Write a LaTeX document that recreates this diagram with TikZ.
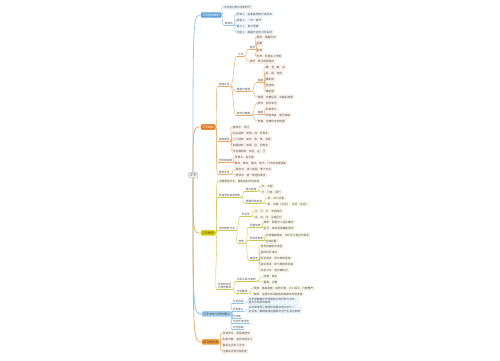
\documentclass[tikz,border=0pt]{standalone}
\usepackage{fontspec}
\newfontfamily\cjk{Noto Sans CJK SC}
\usetikzlibrary{calc}
\definecolor{bma}{HTML}{5AA0D6}\definecolor{bmd}{HTML}{3F86BF}\definecolor{bln}{HTML}{9CC8E6}\definecolor{bdr}{HTML}{BBDCF1}\definecolor{bfi}{HTML}{F4FAFE}
\definecolor{oma}{HTML}{E8771C}\definecolor{omd}{HTML}{D0650E}\definecolor{oln}{HTML}{F0A868}\definecolor{odr}{HTML}{F6CFA8}\definecolor{ofi}{HTML}{FFF9F3}
\definecolor{yma}{HTML}{E6D600}\definecolor{ymd}{HTML}{C9BB00}\definecolor{yln}{HTML}{CFC64E}\definecolor{ydr}{HTML}{E6E3A0}\definecolor{yfi}{HTML}{FDFDF2}
\definecolor{cma}{HTML}{A8D4F0}\definecolor{cmd}{HTML}{7DB8E0}\definecolor{cln}{HTML}{8EC2E6}\definecolor{cdr}{HTML}{BBDCF1}\definecolor{cfi}{HTML}{EEF7FD}
\definecolor{pma}{HTML}{F39A3A}\definecolor{pmd}{HTML}{DE8426}\definecolor{pln}{HTML}{F2AC6A}\definecolor{pdr}{HTML}{F6CFA8}\definecolor{pfi}{HTML}{FFF9F3}
\tikzset{
 base/.style={font=\cjk\fontsize{2.7}{3.2}\selectfont, inner sep=0.6pt, anchor=west, text=black!72},
 leaf/.style={base, draw=#1dr, fill=#1fi, line width=0.3pt, rounded corners=0.6pt, inner sep=0.7pt},
 midn/.style={base},
 mainn/.style={font=\cjk\fontsize{3}{3.4}\selectfont, inner sep=1pt, anchor=west, fill=#1ma, draw=#1md, rounded corners=0.8pt, line width=0.3pt},
 lk/.style={draw=#1ln, line width=0.45pt},
 trunk/.style={draw=#1ln, line width=0.8pt},
}
\newcommand\lfnode[5]{\node[leaf=#1] (#2) at (#3,#4) {#5};}
\newcommand\mdnode[5]{\node[midn] (#2) at (#3,#4) {#5}; \draw[lk=#1] (#2.south west) -- (#2.south east);}
\newcommand\lnk[3]{\draw[lk=#1] (#2) .. controls +(3.5,0) and +(-3.5,0) .. (#3);}
\begin{document}
\begin{tikzpicture}[x=1pt,y=-1pt]
\useasboundingbox (0,0) rectangle (500,360);
\fill[white] (0,0) rectangle (500,360);
\node[font=\cjk\fontsize{3.6}{4}\selectfont, draw=gray!50, fill=white, inner sep=1pt, rounded corners=0.8pt, text=black!75] (cen) at (193,175) {汉字};
% ---------- blue top
\node[mainn=b,text=white] (b) at (201,15) {字的基本概念};
\lfnode{b}{b1}{223}{7}{汉字是记录汉语的符号}
\mdnode{b}{b2}{224}{23}{其特点}
\lfnode{b}{b21}{236}{14}{形体上：由笔画构成方块形体}
\lfnode{b}{b22}{236}{20}{读音上：一字一音节}
\lfnode{b}{b23}{236}{26}{意义上：表示语素}
\lfnode{b}{b24}{236}{32}{功能上：超越方言的书写系统}
\lnk{b}{b.east}{b1.west}\lnk{b}{b.east}{b2.south west}
\foreach \i in {1,...,4}{\lnk{b}{b2.south east}{b2\i.west}}
% ---------- orange
\node[mainn=o,text=white] (o) at (201,127) {汉字结构};
\mdnode{o}{o1}{218}{84}{构造方法}
\mdnode{o}{o11}{237}{54}{六书}
\mdnode{o}{o111}{249}{47}{造字}
\lfnode{o}{o1111}{256}{37}{象形：描摹形状}
\lfnode{o}{o1112}{256}{43.5}{指事}
\lfnode{o}{o1113}{256}{50}{会意}
\lfnode{o}{o1114}{256}{56}{形声：形旁加上声旁}
\lfnode{o}{o112}{249}{61.5}{用字：转注和假借法}
\mdnode{o}{o12}{236}{89}{笔画与笔顺}
\mdnode{o}{o121}{257}{80}{笔画}
\lfnode{o}{o1211}{265}{67}{横、竖、撇、点}
\lfnode{o}{o1212}{265}{73}{折、提、弯钩}
\lfnode{o}{o1213}{265}{79}{横折钩}
\lfnode{o}{o1214}{265}{85}{竖弯钩}
\lfnode{o}{o1215}{265}{91}{横折提}
\lfnode{o}{o122}{257}{97}{笔顺：先横后竖、先撇后捺等}
\mdnode{o}{o13}{236}{113}{部件与偏旁}
\lfnode{o}{o131}{257}{103}{部件：构字单位}
\mdnode{o}{o132}{257}{112}{偏旁}
\lfnode{o}{o1321}{265}{109}{形旁表义}
\lfnode{o}{o1322}{265}{115}{声旁表音，提示读音}
\lfnode{o}{o133}{257}{121}{部首：字典检字的依据}
\mdnode{o}{o2}{218}{139}{结构类型}
\lfnode{o}{o21}{232}{127}{独体字：日月}
\lfnode{o}{o22}{232}{133}{左右结构：如明、林、好等字}
\lfnode{o}{o23}{232}{139}{上下结构：如字、思、草、花等}
\lfnode{o}{o24}{232}{145}{包围结构：如国、回、同等字}
\lfnode{o}{o25}{232}{151}{半包围结构：如区、边、厅}
\mdnode{o}{o3}{218}{160}{字形的演变}
\lfnode{o}{o31}{234}{157}{甲骨文、金文等}
\lfnode{o}{o32}{234}{163}{篆书、隶书、楷书、草书、行书的发展演变}
\mdnode{o}{o4}{218}{172}{规范汉字}
\lfnode{o}{o41}{235}{169}{简化字：减少笔画，便于书写}
\lfnode{o}{o42}{235}{175}{异体字：统一规范标准字}
\foreach \c in {o1,o2,o3,o4}{\lnk{o}{o.east}{\c.south west}}
\lnk{o}{o1.south east}{o11.south west}\lnk{o}{o1.south east}{o12.south west}\lnk{o}{o1.south east}{o13.south west}
\lnk{o}{o11.south east}{o111.south west}\lnk{o}{o11.south east}{o112.west}
\foreach \i in {1,...,4}{\lnk{o}{o111.south east}{o111\i.west}}
\lnk{o}{o12.south east}{o121.south west}\lnk{o}{o12.south east}{o122.west}
\foreach \i in {1,...,5}{\lnk{o}{o121.south east}{o121\i.west}}
\lnk{o}{o13.south east}{o131.west}\lnk{o}{o13.south east}{o132.south west}\lnk{o}{o13.south east}{o133.west}
\foreach \i in {1,2}{\lnk{o}{o132.south east}{o132\i.west}}
\foreach \i in {1,...,5}{\lnk{o}{o2.south east}{o2\i.west}}
\foreach \i in {1,2}{\lnk{o}{o3.south east}{o3\i.west}\lnk{o}{o4.south east}{o4\i.west}}
% ---------- yellow
\node[mainn=y,text=black!80] (y) at (201,233) {汉字使用};
\lfnode{y}{y1}{218}{181}{正确使用汉字，避免错别字的出现}
\mdnode{y}{y2}{218}{195}{多音字的读音辨析}
\mdnode{y}{y21}{245}{189}{据义定音}
\lfnode{y}{y211}{261}{186}{长：长短}
\lfnode{y}{y212}{261}{192}{行：行走、银行}
\mdnode{y}{y22}{245}{201}{根据词性定音}
\lfnode{y}{y221}{267}{198}{好：好人好事}
\lfnode{y}{y222}{267}{204}{处：处理（动词）、处所（名词）}
\mdnode{y}{y3}{218}{228}{字形辨析方法}
\mdnode{y}{y31}{241}{214}{形近字}
\lfnode{y}{y311}{254}{211}{己、已、巳：字形相近}
\lfnode{y}{y312}{254}{217}{戊、戌、戍：注意区分}
\mdnode{y}{y32}{238}{241}{辨析}
\mdnode{y}{y321}{249}{225}{同音字辨}
\lfnode{y}{y3211}{263}{222}{辨析：根据字义选正确字}
\lfnode{y}{y3212}{263}{228}{区分：结合语境确定用字}
\mdnode{y}{y322}{249}{238}{形似字辨析}
\lfnode{y}{y3221}{265}{235}{比较偏旁部首，分析字义差别与联系}
\lfnode{y}{y3222}{265}{241}{多加积累}
\mdnode{y}{y323}{249}{258}{错别字}
\lfnode{y}{y3231}{260}{246}{常见的错别字类型}
\lfnode{y}{y3232}{260}{252}{音同形近误用}
\lfnode{y}{y3233}{260}{258}{形近而误：辩与辨常混用}
\lfnode{y}{y3234}{260}{264}{音近而误：即与既经常混淆}
\lfnode{y}{y3235}{260}{270}{纠正方法：查字典核对}
\node[midn, align=left] (y4) at (217,286) {汉字的书写\\与规范要求}; \draw[lk=y] (y4.south west) -- (y4.south east);
\mdnode{y}{y41}{236}{279}{书写工具与姿势}
\lfnode{y}{y411}{263}{276}{坐姿：端正}
\lfnode{y}{y412}{263}{282}{握笔：正确}
\mdnode{y}{y42}{236}{291}{书写要求}
\lfnode{y}{y421}{253}{288}{规范：笔画清楚，结构匀称，大小适中，行款整齐}
\lfnode{y}{y422}{253}{294}{美观：注意字的间架结构和章法布局安排}
\lnk{y}{y.east}{y1.west}
\foreach \c in {y2,y3,y4}{\lnk{y}{y.east}{\c.south west}}
\lnk{y}{y2.south east}{y21.south west}\lnk{y}{y2.south east}{y22.south west}
\foreach \i in {1,2}{\lnk{y}{y21.south east}{y21\i.west}\lnk{y}{y22.south east}{y22\i.west}\lnk{y}{y31.south east}{y31\i.west}\lnk{y}{y321.south east}{y321\i.west}\lnk{y}{y322.south east}{y322\i.west}\lnk{y}{y41.south east}{y41\i.west}\lnk{y}{y42.south east}{y42\i.west}}
\lnk{y}{y3.south east}{y31.south west}\lnk{y}{y3.south east}{y32.south west}
\foreach \c in {y321,y322,y323}{\lnk{y}{y32.south east}{\c.south west}}
\foreach \i in {1,...,5}{\lnk{y}{y323.south east}{y323\i.west}}
\lnk{y}{y4.south east}{y41.south west}\lnk{y}{y4.south east}{y42.south west}
% ---------- light blue
\node[mainn=c,text=black!80] (c) at (202,314) {汉字文化与历史意义};
\mdnode{c}{c1}{232}{301}{文化内涵}
\node[leaf=c, align=left, font=\cjk\fontsize{2.7}{3.1}\selectfont] (c11) at (248,301) {汉字承载着中华民族悠久的历史与文化，\\是文化传承的载体};
\mdnode{c}{c2}{232}{309.5}{历史意义}
\node[leaf=c, align=left, font=\cjk\fontsize{2.7}{3.1}\selectfont] (c21) at (248,309.5) {汉字是世界上使用时间最长的文字之一，\\对日本、朝鲜等周边国家文字产生深远影响};
\mdnode{c}{c3}{232}{316}{汉字美}
\mdnode{c}{c4}{232}{321.5}{书法艺术欣赏}
\mdnode{c}{c5}{232}{327}{文字游戏}
\foreach \c in {c1,c2,c3,c4,c5}{\lnk{c}{c.east}{\c.south west}}
\lnk{c}{c1.south east}{c11.west}\lnk{c}{c2.south east}{c21.west}
% ---------- orange 2
\node[mainn=p,text=black!80] (p) at (202,342) {学习的方法};
\lfnode{p}{p1}{222}{333}{多读多写，积累常用字}
\lfnode{p}{p2}{222}{339}{利用字典，查找字音字义}
\lfnode{p}{p3}{222}{345}{联系生活学习汉字}
\lfnode{p}{p4}{222}{351}{注意纠正常见错别字}
\foreach \i in {1,...,4}{\lnk{p}{p.east}{p\i.west}}
% ---------- trunks
\draw[trunk=b] (cen.north) .. controls (cen.north |- b.west) .. (b.west);
\draw[trunk=o] (cen.north) .. controls (cen.north |- o.west) .. (o.west);
\draw[trunk=y] (cen.south) .. controls (cen.south |- y.west) .. (y.west);
\draw[trunk=c] (cen.south) .. controls (cen.south |- c.west) .. (c.west);
\draw[trunk=p] (cen.south) .. controls (cen.south |- p.west) .. (p.west);
\end{tikzpicture}
\end{document}
